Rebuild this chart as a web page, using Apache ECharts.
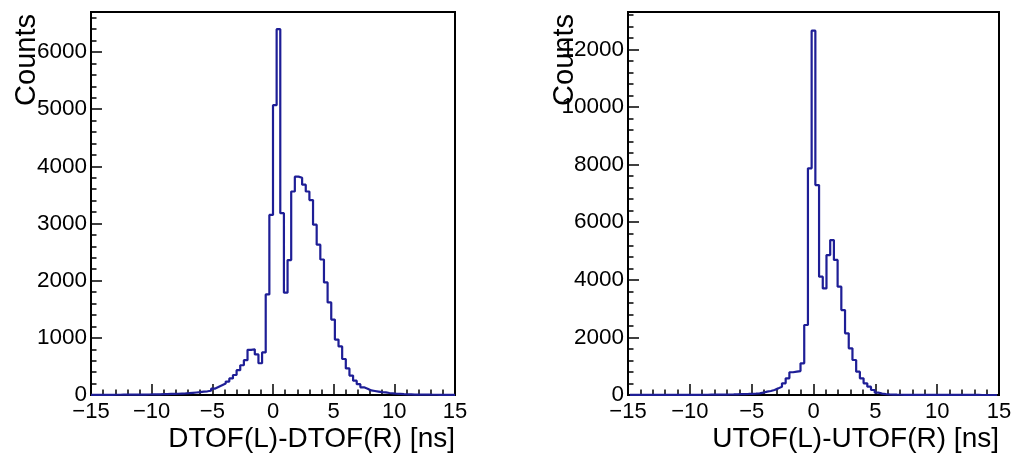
<!DOCTYPE html>
<html>
<head>
<meta charset="utf-8">
<script src="https://cdn.jsdelivr.net/npm/echarts@6/dist/echarts.min.js"></script>
<style>
html,body{margin:0;padding:0;background:#fff;}
#chart{width:1017px;height:459px;}
</style>
</head>
<body>
<div id="chart"></div>
<script>
// ---- data ----
const binWidth = 0.3;
const leftBinStart = -15;      // first bin edge, DTOF histogram
const rightBinStart = -14.85;  // first bin edge, UTOF histogram
const xTicks = [-15, -10, -5, 0, 5, 10, 15];
const leftYMax = 6700;
const rightYMax = 13300;
const leftTitle = 'DTOF(L)-DTOF(R) [ns]';
const rightTitle = 'UTOF(L)-UTOF(R) [ns]';
const yTitle = 'Counts';

const leftCounts = [
  2, 2, 3, 2, 3, 3, 4, 4, 5, 5,
  6, 6, 7, 8, 8, 9, 10, 11, 12, 14,
  16, 18, 20, 22, 25, 28, 32, 38, 44, 50,
  58, 65, 75, 110, 140, 170, 200, 235, 290, 350,
  435, 520, 610, 790, 800, 710, 555, 745, 1760, 3150,
  5070, 6400, 3180, 1790, 2360, 3560, 3820, 3800, 3680, 3560,
  3410, 2980, 2630, 2370, 1970, 1620, 1320, 970, 850, 630,
  465, 340, 250, 190, 135, 110, 80, 70, 60, 50,
  45, 35, 30, 22, 18, 14, 12, 10, 8, 7,
  6, 5, 5, 4, 4, 3, 3, 2, 2, 2
];

const rightCounts = [
  1, 1, 1, 1, 1, 2, 2, 2, 2, 2, 3, 3, 3, 4, 4, 5, 5, 6, 7, 8,
  9, 10, 11, 12, 14, 16, 18, 20, 24, 28, 32, 36, 42, 48, 58, 80, 116, 140, 174, 230,
  290, 405, 580, 790, 810, 830, 1100, 2430, 7870,
  12650,
  7290, 4110, 3700, 4860, 5380, 4690, 3760, 2950, 2140, 1620, 1215, 810, 580, 405, 290, 174, 80, 50, 32, 22,
  15, 10, 8, 6,
  5, 4, 4, 3, 3, 3, 2, 2, 2, 2, 2, 1, 1, 1, 1, 1, 1, 1, 1, 1, 0, 0, 0, 0, 0
];

// ---- helpers ----
function histPoints(start, width, counts) {
  const pts = counts.map((c, i) => [+(start + i * width).toFixed(4), c]);
  pts.push([+(start + counts.length * width).toFixed(4), counts[counts.length - 1]]);
  return pts;
}
const FONT = "'Liberation Sans', Arial, Helvetica, sans-serif";
const BLACK = '#000';
const LINE = '#1e1e96';

function xAxisCfg(gi) {
  return {
    type: 'value', gridIndex: gi, min: xTicks[0], max: xTicks[xTicks.length - 1],
    interval: xTicks[1] - xTicks[0],
    axisLine: { show: true, onZero: false, lineStyle: { color: BLACK, width: 2 } },
    axisTick: { show: true, inside: true, length: 11, lineStyle: { color: BLACK, width: 1.5 } },
    minorTick: { show: true, splitNumber: 5, length: 5.5, lineStyle: { color: BLACK, width: 1.5 } },
    splitLine: { show: false }, minorSplitLine: { show: false },
    axisLabel: {
      color: BLACK, fontFamily: FONT, fontSize: 22, margin: 6,
      formatter: v => String(v).replace('-', '\u2212')
    }
  };
}
function yMajorCfg(gi, max, interval) {
  return {
    type: 'value', gridIndex: gi, position: 'left', offset: 0, min: 0, max: max, interval: interval,
    axisLine: { show: true, onZero: false, lineStyle: { color: BLACK, width: 2 } },
    axisTick: { show: true, inside: true, length: 11, lineStyle: { color: BLACK, width: 1.5 } },
    splitLine: { show: false },
    axisLabel: {
      color: BLACK, fontFamily: FONT, fontSize: 22.5, margin: 4,
      formatter: v => (v % interval === 0 ? String(v) : '')
    }
  };
}
function yMinorCfg(gi, max, interval) {
  return {
    type: 'value', gridIndex: gi, position: 'left', offset: 0, min: 0, max: max, interval: interval,
    axisLine: { show: false, onZero: false },
    axisTick: { show: true, inside: true, length: 5.5, lineStyle: { color: BLACK, width: 1.5 } },
    splitLine: { show: false },
    axisLabel: { show: false }
  };
}

const chart = echarts.init(document.getElementById('chart'), null, { renderer: 'canvas' });
chart.setOption({
  animation: false,
  backgroundColor: '#fff',
  grid: [
    { left: 91, top: 12, width: 364, height: 383, show: true, borderColor: BLACK, borderWidth: 2, backgroundColor: 'transparent' },
    { left: 628, top: 12, width: 371, height: 383, show: true, borderColor: BLACK, borderWidth: 2, backgroundColor: 'transparent' }
  ],
  xAxis: [xAxisCfg(0), xAxisCfg(1)],
  yAxis: [
    yMajorCfg(0, leftYMax, 1000), yMinorCfg(0, leftYMax, 200),
    yMajorCfg(1, rightYMax, 2000), yMinorCfg(1, rightYMax, 400)
  ],
  series: [
    {
      type: 'line', xAxisIndex: 0, yAxisIndex: 0, step: 'end', symbol: 'none', clip: true,
      lineStyle: { color: LINE, width: 2.2 }, data: histPoints(leftBinStart, binWidth, leftCounts)
    },
    {
      type: 'line', xAxisIndex: 1, yAxisIndex: 2, step: 'end', symbol: 'none', clip: true,
      lineStyle: { color: LINE, width: 2.2 }, data: histPoints(rightBinStart, binWidth, rightCounts)
    }
  ],
  graphic: [
    { type: 'text', x: 455, y: 439, z: 100, style: { text: leftTitle, font: "28px " + FONT, fill: BLACK, textAlign: 'right', textVerticalAlign: 'middle' } },
    { type: 'text', x: 999, y: 439, z: 100, style: { text: rightTitle, font: "28px " + FONT, fill: BLACK, textAlign: 'right', textVerticalAlign: 'middle' } },
    { type: 'text', x: 27, y: 14, rotation: Math.PI / 2, z: 100, style: { text: yTitle, font: "29px " + FONT, fill: BLACK, textAlign: 'right', textVerticalAlign: 'middle' } },
    { type: 'text', x: 565, y: 14, rotation: Math.PI / 2, z: 100, style: { text: yTitle, font: "29px " + FONT, fill: BLACK, textAlign: 'right', textVerticalAlign: 'middle' } }
  ]
});
</script>
</body>
</html>
